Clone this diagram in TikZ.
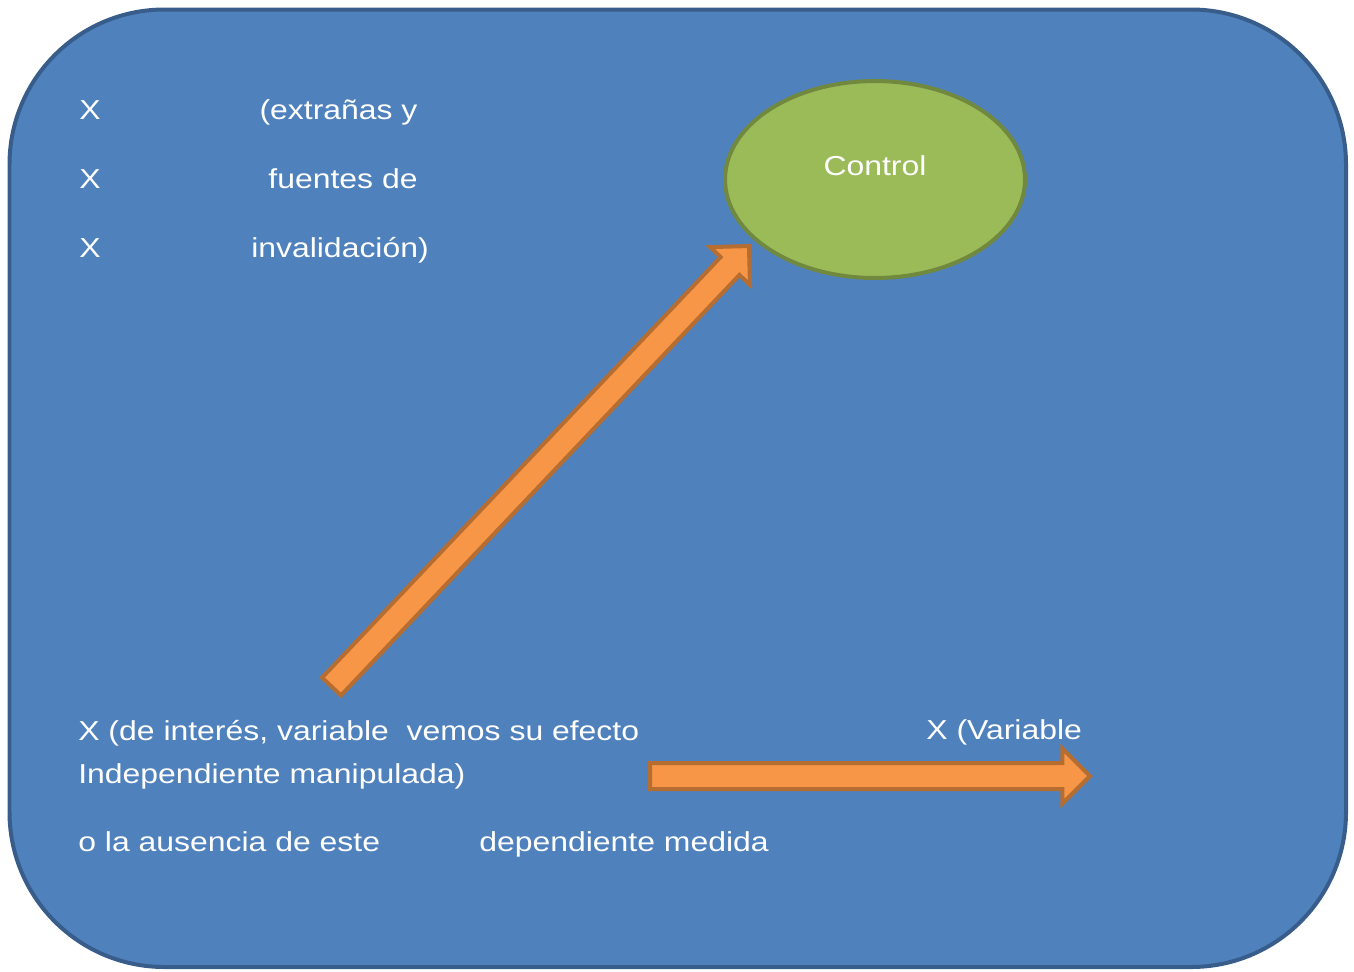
\documentclass[tikz,border=0pt]{standalone}
\usepackage{fontspec}
\setmainfont{Liberation Sans}[FakeStretch=1.165]
\usepackage{tikz}
\usetikzlibrary{arrows, positioning, shapes}

\definecolor{boxblue}{HTML}{4F81BD}
\definecolor{boxline}{HTML}{385D8A}
\definecolor{ctrlgreen}{HTML}{9BBB59}
\definecolor{ctrlline}{HTML}{71893F}
\definecolor{arrfill}{HTML}{F79646}
\definecolor{arrline}{HTML}{B66D31}

\tikzset{
  lbl/.style={text=white, inner sep=0pt, font=\fontsize{15.6}{18}\selectfont},
  blockarrow/.style={single arrow, draw=arrline, fill=arrfill, line width=0.08cm, inner sep=0pt, outer sep=0pt, inner ysep=0.22cm,
                     single arrow head extend=0.29cm, single arrow tip angle=90, single arrow head indent=0pt},
}

\begin{document}
\begin{tikzpicture}[x=0.02cm, y=-0.02cm]

\useasboundingbox (0,0) rectangle (1354,971);
\draw [fill=boxblue, draw=boxline, line width=0.08cm, rounded corners=3.1cm] (9.5,9.5) rectangle (1346,967);

\node [draw=ctrlline, fill=ctrlgreen, ellipse, line width=0.08cm, minimum width=6cm, minimum height=3.94cm, inner sep=0pt] (ctrl) at (875,179.5) {};
\node [lbl, anchor=base] (ctrltxt) at (875,175) {Control};

\node [lbl, anchor=base west] (x1) at (79,119.5) {X};
\node [lbl, anchor=base west] (x2) at (79,188.5) {X};
\node [lbl, anchor=base west] (x3) at (79,257.5) {X};
\node [lbl, anchor=base] (src1) at (338.5,119.5) {(extrañas y};
\node [lbl, anchor=base] (src2) at (343,188.5) {fuentes de};
\node [lbl, anchor=base] (src3) at (340,257.5) {invalidación)};

\node [lbl, anchor=base west] (indep1) at (78,740) {X (de interés, variable\ \ vemos su efecto};
\node [lbl, anchor=base west] (indep2) at (78,783.5) {Independiente manipulada)};
\node [lbl, anchor=base west] (indep3) at (78,851.5) {o la ausencia de este};
\node [lbl, anchor=base west] (dep2) at (479,851.5) {dependiente medida};
\node [lbl, anchor=base west] (dep1) at (926,739.5) {X (Variable};

\coordinate (tailA) at (331.5,686.5);
\coordinate (tipA) at (749,246);
\coordinate (tailB) at (650,776);
\coordinate (tipB) at (1090,776);

\path (tailA) -- (tipA) node [pos=0, sloped, anchor=tail, blockarrow, minimum height=12.14cm] (up) {};
\path (tailB) -- (tipB) node [pos=0, sloped, anchor=tail, blockarrow, minimum height=8.8cm] (right) {};

\end{tikzpicture}
\end{document}
